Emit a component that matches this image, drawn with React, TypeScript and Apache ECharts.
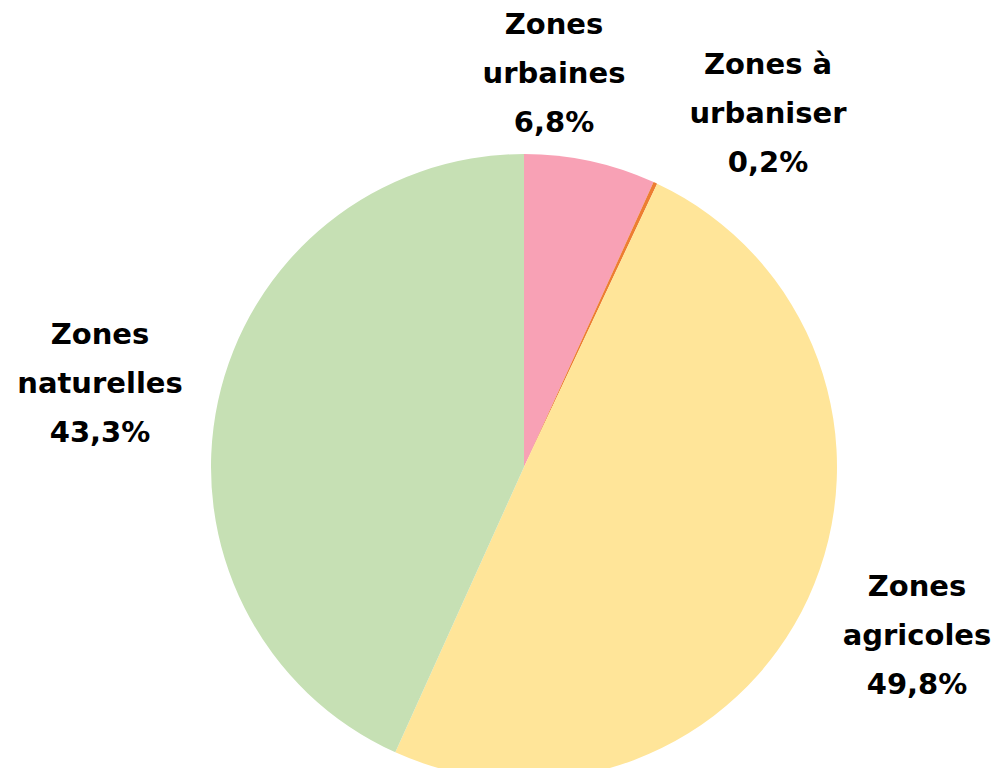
import React, { useEffect, useRef } from "react";
import * as echarts from "echarts";

const categories = ["Zones\nurbaines", "Zones à\nurbaniser", "Zones\nagricoles", "Zones\nnaturelles"];
const values = [6.8, 0.2, 49.8, 43.3];
const colors = ["#F8A1B5", "#ED7D31", "#FFE599", "#C6E0B4"];
// label block centres (px) for each category, in the same order
const labelCenters: [number, number][] = [
  [554, 73],
  [768, 113],
  [917, 635],
  [100, 383],
];

export default function App() {
  const ref = useRef<HTMLDivElement>(null);
  useEffect(() => {
    document.body.style.margin = "0";
    const chart = echarts.init(ref.current!, undefined, { renderer: "svg" });
    chart.setOption({
      animation: false,
      backgroundColor: "#ffffff",
      series: [
        {
          type: "pie",
          center: [524, 467],
          radius: 313,
          startAngle: 90,
          clockwise: true,
          avoidLabelOverlap: false,
          itemStyle: { borderWidth: 0 },
          labelLine: { show: false },
          label: {
            show: true,
            position: "outside",
            formatter: (p: any) => `${p.name}\n${p.value.toFixed(1).replace(".", ",")}%`,
            fontFamily: "DejaVu Sans",
            fontWeight: "bold",
            fontSize: 29,
            lineHeight: 49,
            color: "#000000",
            align: "center",
          },
          labelLayout: (params: any) => {
            const c = labelCenters[params.dataIndex];
            return { x: c[0], y: c[1], align: "center", verticalAlign: "middle" };
          },
          data: categories.map((name, i) => ({
            name,
            value: values[i],
            itemStyle: { color: colors[i] },
          })),
        },
      ],
    });
    return () => chart.dispose();
  }, []);
  return <div ref={ref} style={{ width: 1006, height: 768 }} />;
}
